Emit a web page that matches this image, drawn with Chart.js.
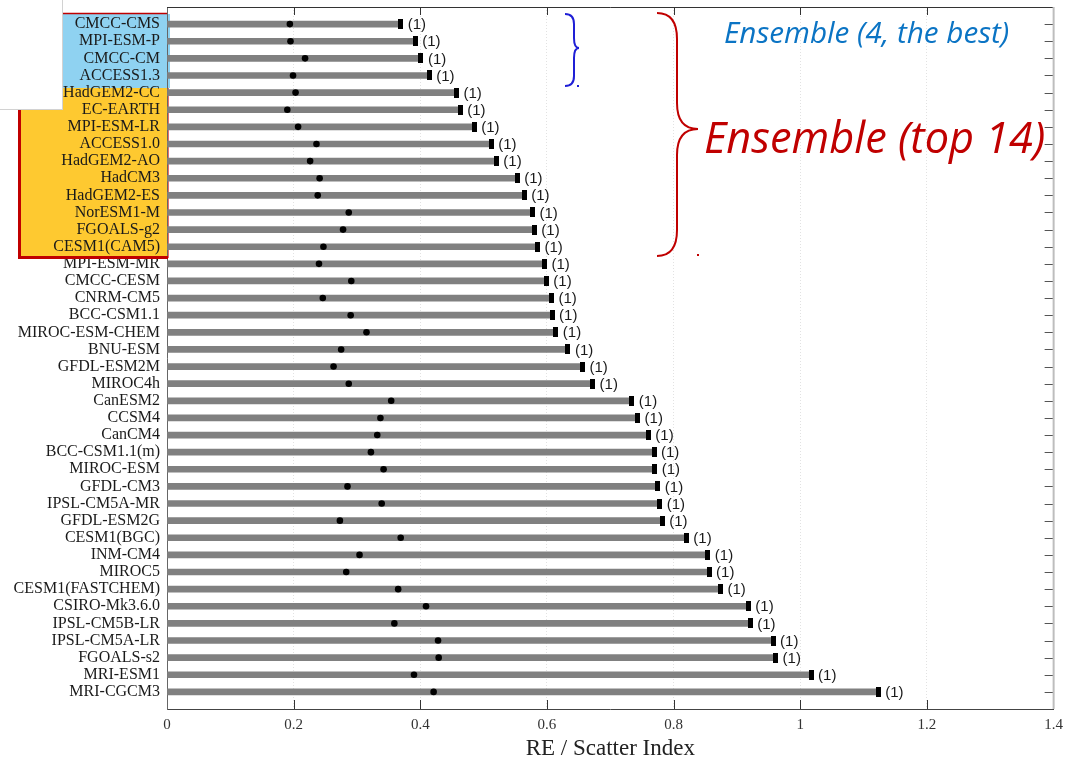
<!DOCTYPE html>
<html>
<head>
<meta charset="utf-8">
<title>RE / Scatter Index</title>
<script src="https://cdn.jsdelivr.net/npm/chart.js@4.4.1/dist/chart.umd.min.js"></script>
<style>
  html, body { margin: 0; padding: 0; background: #fff; }
  canvas { display: block; }
</style>
</head>
<body>
<canvas id="chart" width="1070" height="760"></canvas>
<script>
//model names, best first
const models = [
  "CMCC-CMS", "MPI-ESM-P", "CMCC-CM", "ACCESS1.3", "HadGEM2-CC", "EC-EARTH",
  "MPI-ESM-LR", "ACCESS1.0", "HadGEM2-AO", "HadCM3", "HadGEM2-ES", "NorESM1-M",
  "FGOALS-g2", "CESM1(CAM5)", "MPI-ESM-MR", "CMCC-CESM", "CNRM-CM5", "BCC-CSM1.1",
  "MIROC-ESM-CHEM", "BNU-ESM", "GFDL-ESM2M", "MIROC4h", "CanESM2", "CCSM4",
  "CanCM4", "BCC-CSM1.1(m)", "MIROC-ESM", "GFDL-CM3", "IPSL-CM5A-MR", "GFDL-ESM2G",
  "CESM1(BGC)", "INM-CM4", "MIROC5", "CESM1(FASTCHEM)", "CSIRO-Mk3.6.0", "IPSL-CM5B-LR",
  "IPSL-CM5A-LR", "FGOALS-s2", "MRI-ESM1", "MRI-CGCM3"
];
//relative error (bar length, square marker)
const reValues = [
  0.369, 0.392, 0.401, 0.414, 0.457, 0.463, 0.485, 0.512, 0.520, 0.553,
  0.564, 0.577, 0.580, 0.585, 0.596, 0.599, 0.607, 0.608, 0.614, 0.633,
  0.656, 0.672, 0.734, 0.743, 0.760, 0.769, 0.770, 0.775, 0.778, 0.782,
  0.820, 0.854, 0.856, 0.874, 0.918, 0.921, 0.957, 0.961, 1.017, 1.123
];
//scatter index (round dot)
const scatterValues = [
  0.194, 0.195, 0.218, 0.199, 0.203, 0.190, 0.207, 0.236, 0.226, 0.241,
  0.238, 0.287, 0.278, 0.247, 0.240, 0.291, 0.246, 0.290, 0.315, 0.275,
  0.263, 0.287, 0.354, 0.337, 0.332, 0.322, 0.342, 0.285, 0.339, 0.273,
  0.369, 0.304, 0.283, 0.365, 0.409, 0.359, 0.428, 0.429, 0.390, 0.421
];
//number of runs per model
const runCounts = [
  1, 1, 1, 1, 1, 1, 1, 1, 1, 1, 1, 1, 1, 1, 1, 1, 1, 1, 1, 1,
  1, 1, 1, 1, 1, 1, 1, 1, 1, 1, 1, 1, 1, 1, 1, 1, 1, 1, 1, 1
];
//x axis
const xMin = 0, xMax = 1.4, xStep = 0.2;
const xTitle = "RE / Scatter Index";
//group notes
const bestNote = "Ensemble (4, the best)";
const topNote = "Ensemble (top 14)";

const serif = '"Liberation Serif", "Times New Roman", serif';
const sans = '"Liberation Sans", Arial, sans-serif';
const noteFont = '"Open Sans", "Noto Sans", sans-serif';

//one empty slot above and below the models
const yLabels = ["", ...models, ""];
const pad = (arr) => [null, ...arr, null];

//black bar-end marker
const endMark = document.createElement("canvas");
endMark.width = 5;
endMark.height = 10;
const markCtx = endMark.getContext("2d");
markCtx.fillStyle = "#000";
markCtx.fillRect(0, 0, 5, 10);

function line(ctx, x1, y1, x2, y2) {
  ctx.beginPath();
  ctx.moveTo(x1, y1);
  ctx.lineTo(x2, y2);
  ctx.stroke();
}

//right-facing curly brace
function brace(ctx, x0, xm, x1, y0, ym, y1, q) {
  ctx.beginPath();
  ctx.moveTo(x0, y0);
  ctx.quadraticCurveTo(xm, y0, xm, y0 + q);
  ctx.lineTo(xm, ym - q);
  ctx.quadraticCurveTo(xm, ym, x1, ym);
  ctx.quadraticCurveTo(xm, ym, xm, ym + q);
  ctx.lineTo(xm, y1 - q);
  ctx.quadraticCurveTo(xm, y1, x0, y1);
  ctx.stroke();
}

//text stretched to a given width
function noteText(ctx, text, color, x, baseline, width) {
  ctx.font = "italic 100px " + noteFont;
  const size = (100 * width) / ctx.measureText(text).width;
  ctx.font = "italic " + size.toFixed(1) + "px " + noteFont;
  ctx.fillStyle = color;
  ctx.textAlign = "left";
  ctx.textBaseline = "alphabetic";
  ctx.fillText(text, x, baseline);
}

//coloured boxes behind the model names
const panels = {
  id: "panels",
  beforeDraw(chart) {
    const ctx = chart.ctx;
    ctx.save();
    ctx.fillStyle = "#fff";
    ctx.fillRect(0, 0, chart.width, chart.height);
    ctx.fillStyle = "#fec930";
    ctx.fillRect(18, 13, 150, 246);
    ctx.fillStyle = "#8fd2f1";
    ctx.fillRect(63, 14, 107, 74);
    ctx.strokeStyle = "#c00000";
    ctx.lineWidth = 1.5;
    line(ctx, 18, 13.5, 168, 13.5);
    ctx.lineWidth = 3;
    line(ctx, 19.5, 13, 19.5, 259);
    ctx.strokeStyle = "#e07070";
    ctx.lineWidth = 1;
    line(ctx, 168.5, 88, 168.5, 258);
    ctx.fillStyle = "#fff";
    ctx.fillRect(0, 0, 63, 110);
    ctx.strokeStyle = "#d2d2d2";
    line(ctx, 62.5, 0, 62.5, 110);
    line(ctx, 0, 109.5, 63, 109.5);
    ctx.restore();
  },
  afterDraw(chart) {
    const ctx = chart.ctx;
    ctx.save();
    ctx.strokeStyle = "#c00000";
    ctx.lineWidth = 3;
    line(ctx, 18, 257.5, 168, 257.5);
    ctx.restore();
  }
};

//"(n)" after each bar
const countLabels = {
  id: "countLabels",
  afterDatasetsDraw(chart) {
    const ctx = chart.ctx;
    const meta = chart.getDatasetMeta(1);
    ctx.save();
    ctx.font = "15px " + sans;
    ctx.fillStyle = "#1a1a1a";
    ctx.textAlign = "left";
    ctx.textBaseline = "middle";
    meta.data.forEach((el, i) => {
      if (i === 0 || i > models.length) return;
      ctx.fillText("(" + runCounts[i - 1] + ")", el.x + 7, el.y + 1);
    });
    ctx.restore();
  }
};

//box frame with inward ticks, braces and notes
const frame = {
  id: "frame",
  afterDraw(chart) {
    const { ctx, chartArea: a, scales } = chart;
    const x = scales.x, y = scales.y;
    ctx.save();
    ctx.strokeStyle = "#333";
    ctx.lineWidth = 1;
    line(ctx, a.left, a.top + 0.5, a.right, a.top + 0.5);
    x.ticks.forEach((t, i) => {
      const px = Math.round(x.getPixelForTick(i)) + 0.5;
      if (i === 0 || i === x.ticks.length - 1) return;
      line(ctx, px, a.top, px, a.top + 8);
      line(ctx, px, a.bottom - 9, px, a.bottom);
    });
    ctx.strokeStyle = "#555";
    for (let i = 1; i <= models.length; i++) {
      const py = Math.round(y.getPixelForValue(i)) + 0.5;
      line(ctx, a.right - 9, py, a.right, py);
    }
    ctx.strokeStyle = "#bdbdbd";
    ctx.lineWidth = 2;
    line(ctx, a.right, a.top, a.right, a.bottom);

    //brace for the best four
    ctx.strokeStyle = "#1f1fd6";
    ctx.lineWidth = 2;
    brace(ctx, 565, 574, 579, 14, 48, 86, 10);
    ctx.fillStyle = "#1f1fd6";
    ctx.fillRect(577, 85, 2, 2);
    //brace for the top fourteen
    ctx.strokeStyle = "#c00000";
    brace(ctx, 657, 677, 698, 13, 129, 256, 26);
    ctx.fillStyle = "#c00000";
    ctx.fillRect(697, 254, 2, 2);

    noteText(ctx, bestNote, "#0b74c4", 724, 43, 285);
    noteText(ctx, topNote, "#c00000", 704, 153, 341);
    ctx.restore();
  }
};

const chart = new Chart(document.getElementById("chart"), {
  type: "bar",
  plugins: [panels, countLabels, frame],
  data: {
    labels: yLabels,
    datasets: [
      {
        type: "bar",
        indexAxis: "y",
        data: pad(reValues),
        backgroundColor: "#808080",
        barThickness: 6,
        order: 3,
      },
      {
        type: "line",
        indexAxis: "y",
        data: pad(reValues),
        showLine: false,
        pointStyle: endMark,
        pointRadius: 5,
        order: 2,
      },
      {
        type: "line",
        indexAxis: "y",
        data: pad(scatterValues),
        showLine: false,
        pointStyle: "circle",
        pointRadius: 3.3,
        pointBackgroundColor: "#000",
        pointBorderWidth: 0,
        order: 1,
      },
    ],
  },
  options: {
    indexAxis: "y",
    responsive: false,
    animation: false,
    layout: { padding: { top: 7, right: 13, bottom: 0, left: 0 } },
    plugins: {
      legend: { display: false },
      tooltip: { enabled: false },
    },
    scales: {
      x: {
        type: "linear",
        min: xMin,
        max: xMax,
        ticks: {
          stepSize: xStep,
          padding: 7,
          color: "#333",
          font: { family: serif, size: 15 },
          callback: (v) => String(+Number(v).toFixed(1)),
        },
        grid: { color: "#e2e2e2", drawTicks: false },
        border: { color: "#444", width: 1, dash: [1, 2] },
        title: {
          display: true,
          text: xTitle,
          color: "#222",
          font: { family: serif, size: 23, lineHeight: 1 },
          padding: { top: 0, bottom: 0 },
        },
        afterFit: (scale) => { scale.height = 51; },
      },
      y: {
        type: "category",
        offset: false,
        grid: { display: false, drawTicks: false },
        border: { color: "#666", width: 1 },
        ticks: {
          autoSkip: false,
          padding: 7,
          color: "#1a1a1a",
          font: { family: serif, size: 16, lineHeight: 0.875 },
        },
        afterFit: (scale) => {
          scale.width = 167;
          scale.paddingTop = 0;
          scale.paddingBottom = 0;
        },
      },
    },
  },
});
</script>
</body>
</html>
